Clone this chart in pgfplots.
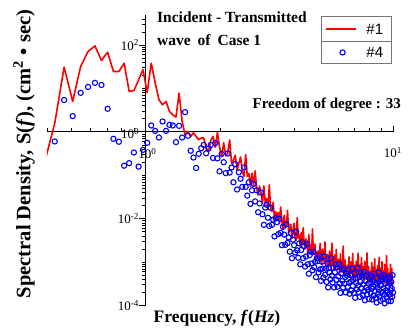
\documentclass[border=0pt]{standalone}
\usepackage{pgfplots}
\pgfplotsset{compat=1.18}
\usepackage{pgfplotstable}
\usepackage{fontspec}
\setmainfont{Liberation Serif}
\newfontfamily\arialf{Liberation Sans}

\pgfplotsset{
  redleg/.style={legend image code/.code={\draw[red, line width=1.8pt] (0pt,0pt) -- (30pt,0pt);}},
  blueleg/.style={legend image code/.code={\path[draw=none, fill=none] (0pt,0pt) -- (30pt,0pt); \draw[blue, line width=1.1pt, fill=none] (17pt,0pt) circle (2.6pt);}},
}

\pgfplotstableread{
f r b
0.391 0.195 nan
0.430 1.58 0.60
0.469 31 5.4
0.508 5.0 2.3
0.547 32 7.9
0.586 71 10.8
0.625 95 13.4
0.664 44 12.0
0.703 68 3.4
0.742 24.5 0.69
0.781 24.5 0.59
0.820 38 0.166
0.859 8.5 0.19
0.898 8.9 0.334
0.938 15.8 0.158
0.977 27 0.385
1.016 8.0 0.56
1.055 38 1.40
1.094 13.5 1.05
1.133 5.5 0.74
1.172 4.2 1.73
1.211 5.0 1.05
1.250 2.95 1.45
1.289 2.45 1.40
1.328 2.2 0.58
1.367 7.8 1.37
1.406 1.74 0.74
1.445 0.85 2.84
1.484 1.02 0.81
1.523 0.78 0.366
1.563 0.95 0.256
1.602 0.78 0.147
1.641 0.66 0.312
1.680 0.72 0.42
1.719 0.72 0.50
1.758 0.43 0.32
1.797 0.355 0.41
1.836 0.63 0.50
1.875 0.79 0.25
1.914 0.44 0.55
1.953 0.98 0.245
1.992 0.44 0.123
2.031 0.275 0.31
2.070 0.56 0.20
2.109 0.28 0.112
2.148 0.316 0.316
2.188 0.65 0.115
2.227 0.19 0.151
2.266 0.22 0.069
2.305 0.29 0.18
2.344 0.132 0.047
2.383 0.186 0.117
2.422 0.263 0.083
2.461 0.12 0.054
2.500 0.095 0.151
2.539 0.30 0.054
2.578 0.095 0.034
2.617 0.11 0.069
2.656 0.055 0.022
2.695 0.112 0.045
2.734 0.056 0.063
2.773 0.126 0.025
2.813 0.050 0.045
2.852 0.035 0.0141
2.891 0.056 0.0224
2.930 0.040 0.040
2.969 0.0224 0.0126
3.008 0.057 0.0072
3.047 0.023 0.018
3.086 0.0295 0.021
3.125 0.0166 0.0105
3.164 0.060 0.0068
3.203 0.0178 0.0178
3.242 0.0145 0.0072
3.281 0.024 0.0095
3.320 0.0098 0.0039
3.359 0.0145 0.0102
3.398 0.0105 0.0083
3.438 0.0138 0.0044
3.477 0.0079 0.0100
3.516 0.0186 0.0047
3.555 0.0087 0.00245
3.594 0.0058 0.0065
3.633 0.0120 0.0043
3.672 0.0063 0.0025
3.711 0.0074 0.0074
3.750 0.0155 0.00275
3.789 0.0047 0.0037
3.828 0.0055 0.00174
3.867 0.0074 0.0047
3.906 0.00347 0.00123
3.945 0.0052 0.0033
3.984 0.0078 0.00245
4.023 0.0037 0.00166
4.063 0.00316 0.0050
4.102 0.0105 0.00186
4.141 0.00355 0.00126
4.180 0.0043 0.0027
4.219 0.00224 0.00089
4.258 0.0048 0.0019
4.297 0.0026 0.0029
4.336 0.0062 0.00123
4.375 0.0026 0.00234
4.414 0.0020 0.00079
4.453 0.0034 0.00135
4.492 0.0026 0.0026
4.531 0.00158 0.00089
4.570 0.0043 0.00054
4.609 0.0018 0.00145
4.648 0.00245 0.00174
4.688 0.00148 0.00093
4.727 0.0058 0.00065
4.766 0.00174 0.00174
4.805 0.0015 0.00076
4.844 0.0026 0.00102
4.883 0.00112 0.00045
4.922 0.00174 0.00123
4.961 0.00132 0.00105
5.000 0.0018 0.00058
5.039 0.0011 0.00138
5.078 0.0027 0.00068
5.117 0.00132 0.00037
5.156 0.00091 0.00102
5.195 0.0020 0.00071
5.234 0.0011 0.00044
5.273 0.00135 0.00135
5.313 0.0029 0.00051
5.352 0.00089 0.00071
5.391 0.0011 0.00035
5.430 0.0015 0.00095
5.469 0.00074 0.00026
5.508 0.00115 0.00072
5.547 0.0018 0.00058
5.586 0.00089 0.0004
5.625 0.00078 0.00123
5.664 0.00275 0.00049
5.703 0.00095 0.00034
5.742 0.00117 0.00074
5.781 0.00066 0.00026
5.820 0.00145 0.00058
5.859 0.00079 0.00089
5.898 0.00195 0.00039
5.938 0.00085 0.00076
5.977 0.00068 0.00027
6.016 0.00117 0.00047
6.055 0.00091 0.00091
6.094 0.00056 0.00032
6.133 0.00155 0.000195
6.172 0.00069 0.00055
6.211 0.00095 0.00068
6.250 0.00059 0.00037
6.289 0.00234 0.00026
6.328 0.00072 0.00072
6.367 0.00065 0.00032
6.406 0.00112 0.00045
6.445 0.0005 0.0002
6.484 0.00078 0.00055
6.523 0.00062 0.00049
6.563 0.00085 0.00027
6.602 0.00054 0.00068
6.641 0.00132 0.00033
6.680 0.00066 0.000186
6.719 0.00046 0.00051
6.758 0.00102 0.00036
6.797 0.00056 0.000224
6.836 0.00071 0.00071
6.875 0.00158 0.00028
6.914 0.00049 0.00039
6.953 0.00062 0.000195
6.992 0.00085 0.00054
7.031 0.00043 0.000151
7.070 0.00068 0.00043
7.109 0.00105 0.00033
7.148 0.00052 0.000234
7.188 0.00047 0.00074
7.227 0.00162 0.00029
7.266 0.00058 0.000204
7.305 0.00072 0.00046
7.344 0.0004 0.000158
7.383 0.00089 0.00035
7.422 0.0005 0.00056
7.461 0.00126 0.00025
7.500 0.00055 0.00049
7.539 0.00044 0.000174
7.578 0.00078 0.00031
7.617 0.0006 0.0006
7.656 0.00038 0.000214
7.695 0.00105 0.000132
7.734 0.00047 0.00037
7.773 0.00066 0.00047
7.813 0.00041 0.00026
7.852 0.00162 0.000182
7.891 0.00051 0.00051
7.930 0.00046 0.000229
7.969 0.00079 0.00032
8.008 0.00035 0.000141
8.047 0.00056 0.0004
8.086 0.00045 0.00035
8.125 0.00062 0.000195
8.164 0.00039 0.00049
8.203 0.00098 0.000245
8.242 0.00049 0.000138
8.281 0.00035 0.00039
8.320 0.00076 0.00027
8.359 0.00043 0.00017
8.398 0.00054 0.00054
8.438 0.0012 0.000214
8.477 0.00038 0.0003
8.516 0.00047 0.000148
8.555 0.00066 0.00042
8.594 0.00033 0.000117
8.633 0.00052 0.00033
8.672 0.00083 0.00026
8.711 0.00042 0.000186
8.750 0.00036 0.00058
8.789 0.00129 0.000229
8.828 0.00046 0.000162
8.867 0.00058 0.00036
8.906 0.00032 0.000129
8.945 0.00072 0.00029
8.984 0.00041 0.00046
9.023 0.00102 0.000204
9.063 0.00045 0.0004
9.102 0.00035 0.000141
9.141 0.00063 0.00025
9.180 0.0005 0.0005
9.219 0.00032 0.000178
9.258 0.00089 0.000112
9.297 0.0004 0.00032
9.336 0.00056 0.0004
9.375 0.00035 0.000224
9.414 0.00141 0.000158
9.453 0.00045 0.00045
9.492 0.0004 0.0002
9.531 0.00071 0.00028
9.570 0.00032 0.000126
9.609 0.0005 0.00035
9.648 0.0004 0.00032
9.688 0.00056 0.000178
9.727 0.00035 0.00045
9.766 0.00089 0.000224
9.805 0.00045 0.000126
9.844 0.00032 0.00035
9.883 0.00071 0.00025
9.922 0.0004 0.000158
9.961 0.0005 0.0005
10.000 0.000141 0.0002
}\spec

\begin{document}
\begin{tikzpicture}[x=1pt,y=1pt]
\useasboundingbox (0,0) rectangle (409,330);
\begin{axis}[
  at={(47pt,24.5pt)}, anchor=south west,
  scale only axis, width=346pt, height=290.5pt,
  xmode=log, ymode=log,
  xmin=0.4, xmax=10, ymin=1e-4, ymax=490,
  axis lines=middle,
  axis line style={-, black, line width=0.8pt},
  enlargelimits=false,
  xtick={1,10},
  xticklabels={10\textsuperscript{0},10\textsuperscript{1}},
  xticklabel style={yshift=-9pt},
  ytick={1e-4,1e-2,1,100},
  yticklabels={10\textsuperscript{-4},10\textsuperscript{-2},10\textsuperscript{0},10\textsuperscript{2}},
  minor xtick={0.4,0.5,0.6,0.7,0.8,0.9,2,3,4,5,6,7,8,9},
  minor ytick={2e-4,3e-4,4e-4,5e-4,6e-4,7e-4,8e-4,9e-4,1e-3,2e-3,3e-3,4e-3,5e-3,6e-3,7e-3,8e-3,9e-3,2e-2,3e-2,4e-2,5e-2,6e-2,7e-2,8e-2,9e-2,0.1,0.2,0.3,0.4,0.5,0.6,0.7,0.8,0.9,2,3,4,5,6,7,8,9,10,20,30,40,50,60,70,80,90,200,300,400},
  tick label style={font=\fontsize{13}{13}\selectfont, black},
  tick style={black, line width=0.6pt},
  tick align=center, major tick length=6pt, minor tick length=3.5pt,
  major x tick style={yshift=3pt},
  minor x tick style={yshift=1.75pt},
  major y tick style={xshift=-3pt},
  minor y tick style={xshift=-1.75pt},
  legend cell align=left,
  legend style={draw=none, fill=none, at={(0.890,0.9115)}, anchor=center,
    font=\arialf\fontsize{15}{15}\selectfont, row sep=9pt, column sep=8pt, inner sep=0pt,
    nodes={inner sep=2pt, text height=10.5pt, text depth=0pt}},
]
\addplot[red, line width=1.6pt, line join=round, no markers, redleg]
  table[x=f, y=r] {\spec};
\addlegendentry{\#1}
\addplot[only marks, mark=o, mark size=2.6pt, color=blue, mark options={line width=1.1pt}, blueleg]
  table[x=f, y=b] {\spec};
\addlegendentry{\#4}
\draw[black!55, line width=0.8pt] (rel axis cs:0.7919,0.8348) rectangle (rel axis cs:0.9942,0.9966);
\draw[black!55, line width=0.8pt] (rel axis cs:0.7919,0.9105) -- (rel axis cs:0.9942,0.9105);
\node[anchor=east, inner sep=0pt, font=\fontsize{13}{13}\selectfont, xshift=-6pt, yshift=-2pt] at (axis cs:1,1) {10\textsuperscript{0}};
\node[inner sep=0pt, font=\fontsize{13}{13}\selectfont, xshift=2pt, yshift=-22pt] at (axis cs:1,1) {10\textsuperscript{0}};
\end{axis}
\node[anchor=west, inner sep=0pt, font=\bfseries\fontsize{15.5}{15.5}\selectfont] at (157,313) {Incident - Transmitted};
\node[anchor=west, inner sep=0pt, font=\bfseries\fontsize{15.5}{15.5}\selectfont] at (157,290) {wave\hspace{0.45em}of\hspace{0.45em}Case 1};
\node[anchor=east, inner sep=0pt, font=\bfseries\fontsize{15}{15}\selectfont] at (401,225) {Freedom of degree : 33};
\node[rotate=90, inner sep=0pt, font=\bfseries\fontsize{20.5}{20.5}\selectfont] at (24,176) {Spectral Density, S(\textit{f}), (cm\textsuperscript{2} • sec)};
\node[inner sep=0pt, font=\bfseries\fontsize{17.5}{17.5}\selectfont] at (217,12) {Frequency, \textit{f}(\textit{Hz})};
\end{tikzpicture}
\end{document}
